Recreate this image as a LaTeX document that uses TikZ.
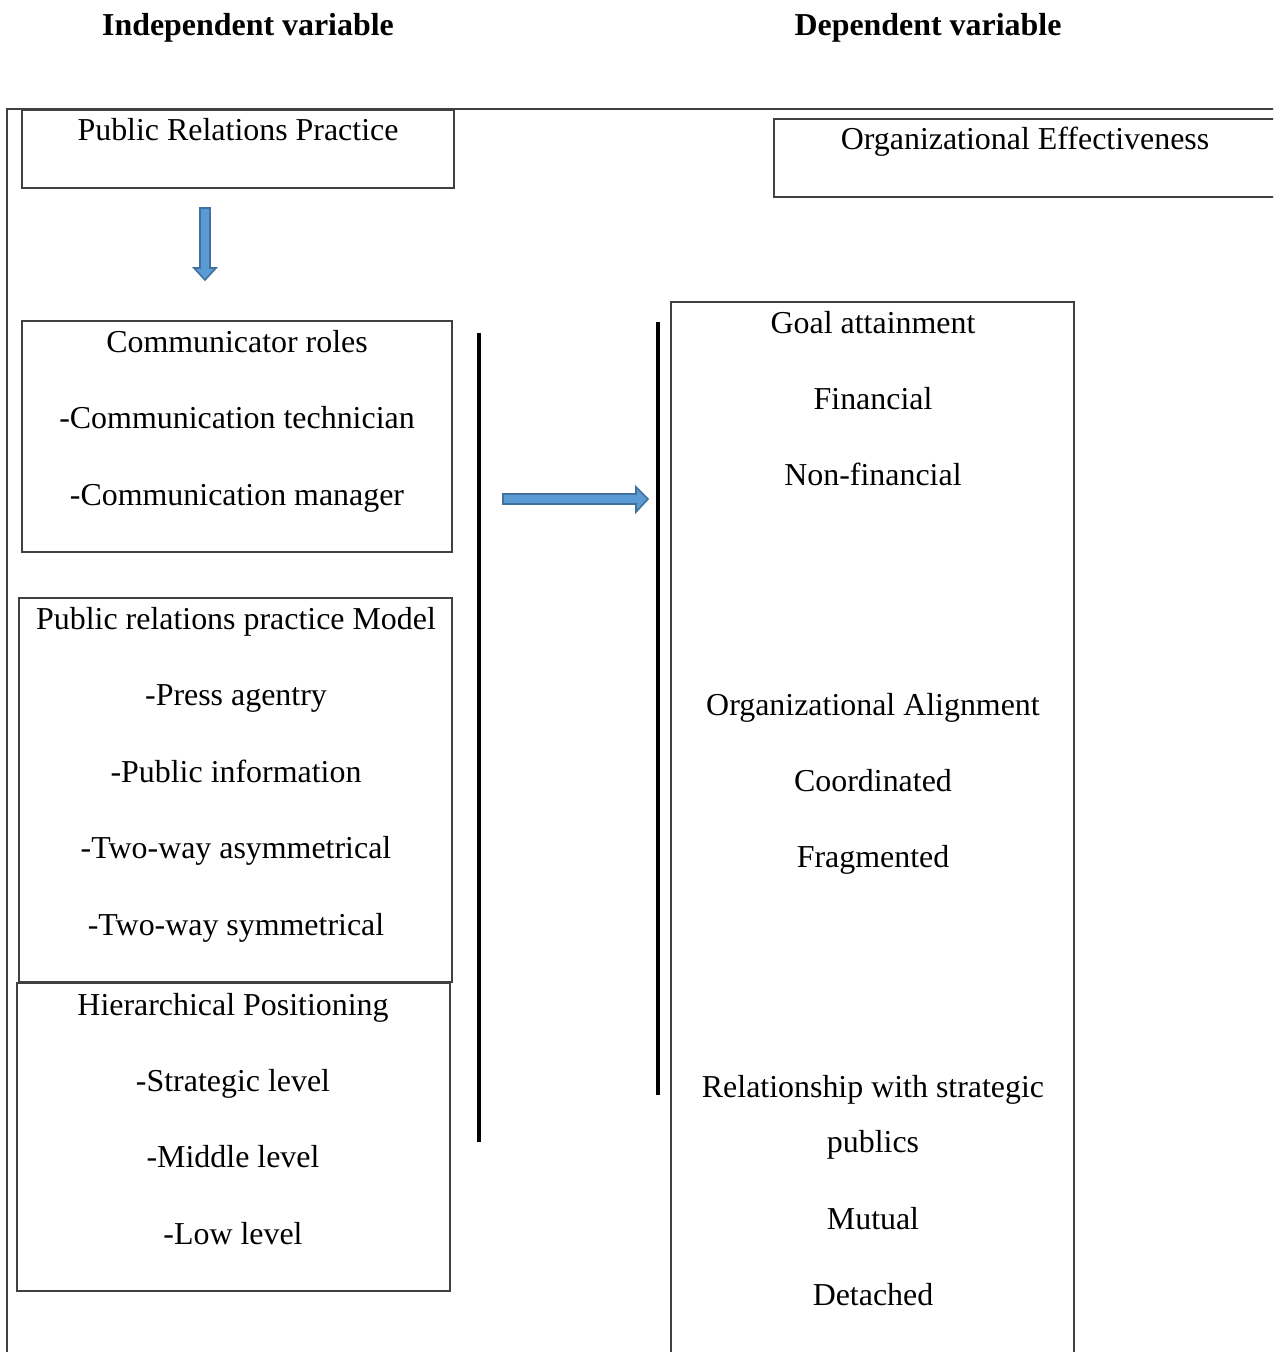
\documentclass[tikz,border=0pt]{standalone}
\usepackage{fontspec}
\setmainfont{Liberation Serif}
\usepackage{tikz}
\usetikzlibrary{positioning}
\definecolor{arrowfill}{HTML}{5B9BD5}
\definecolor{arrowline}{HTML}{41719C}
\definecolor{boxline}{HTML}{404040}
\tikzstyle{box} = [draw=boxline,line width=0.6pt]
\tikzstyle{bar} = [line width=1.3pt]
\tikzstyle{blockarrow} = [fill=arrowfill,draw=arrowline,line width=0.6pt,line join=miter]
\tikzstyle{txt} = [font=\fontsize{12}{14}\selectfont,inner sep=0pt,text height=8.5pt,text depth=2.6pt]
\tikzstyle{head} = [txt,font=\fontsize{12}{14}\selectfont\bfseries]

\begin{document}
\begin{tikzpicture}[x=0.376pt,y=-0.376pt]
\clip (0,0) rectangle (1273,1352);

% headings
\node[head] (indep) at (248,28) {Independent variable};
\node[head] (dep) at (928,28) {Dependent variable};

% frame
\draw[box] (7,1360) -- (7,109) -- (1280,109);

% boxes
\draw[box] (22,110) rectangle (454,188);
\draw[box] (774,119) rectangle (1290,197);
\draw[box] (22,321) rectangle (452,552);
\draw[box] (19,598) rectangle (452,982);
\draw[box] (17,983) rectangle (450,1291);
\draw[box] (671,302) rectangle (1074,1370);

\node[txt] (prp) at (238,133) {Public Relations Practice};
\node[txt] (oe) at (1025,142) {Organizational Effectiveness};

\foreach \t [count=\i] in {Communicator roles,-Communication technician,-Communication manager}
{
\node[txt] (roles\i) at (237,268+76.5*\i) {\t};
}

\foreach \t [count=\i] in {Public relations practice Model,-Press agentry,-Public information,-Two-way asymmetrical,-Two-way symmetrical}
{
\node[txt] (model\i) at (236,545+76.5*\i) {\t};
}

\foreach \t [count=\i] in {Hierarchical Positioning,-Strategic level,-Middle level,-Low level}
{
\node[txt] (level\i) at (233,931+76.3*\i) {\t};
}

\foreach \t [count=\i] in {Goal attainment,Financial,Non-financial}
{
\node[txt] (goal\i) at (873,250+76*\i) {\t};
}

\foreach \t [count=\i] in {Organizational Alignment,Coordinated,Fragmented}
{
\node[txt] (align\i) at (873,632+76*\i) {\t};
}

\node[txt] (rel1) at (873,1090) {Relationship with strategic};
\node[txt] (rel2) at (873,1145) {publics};
\node[txt] (rel3) at (873,1222) {Mutual};
\node[txt] (rel4) at (873,1298) {Detached};

% bars
\draw[bar] (479,333) -- (479,1142);
\draw[bar] (658,322) -- (658,1095);

% block arrows
\draw[blockarrow] (200,208) -- (210,208) -- (210,268) -- (216,268) -- (205,280)
  -- (194,268) -- (200,268) -- cycle;
\draw[blockarrow] (503,494) -- (636,494) -- (636,487) -- (648,499) -- (636,512)
  -- (636,504) -- (503,504) -- cycle;
\end{tikzpicture}
\end{document}
